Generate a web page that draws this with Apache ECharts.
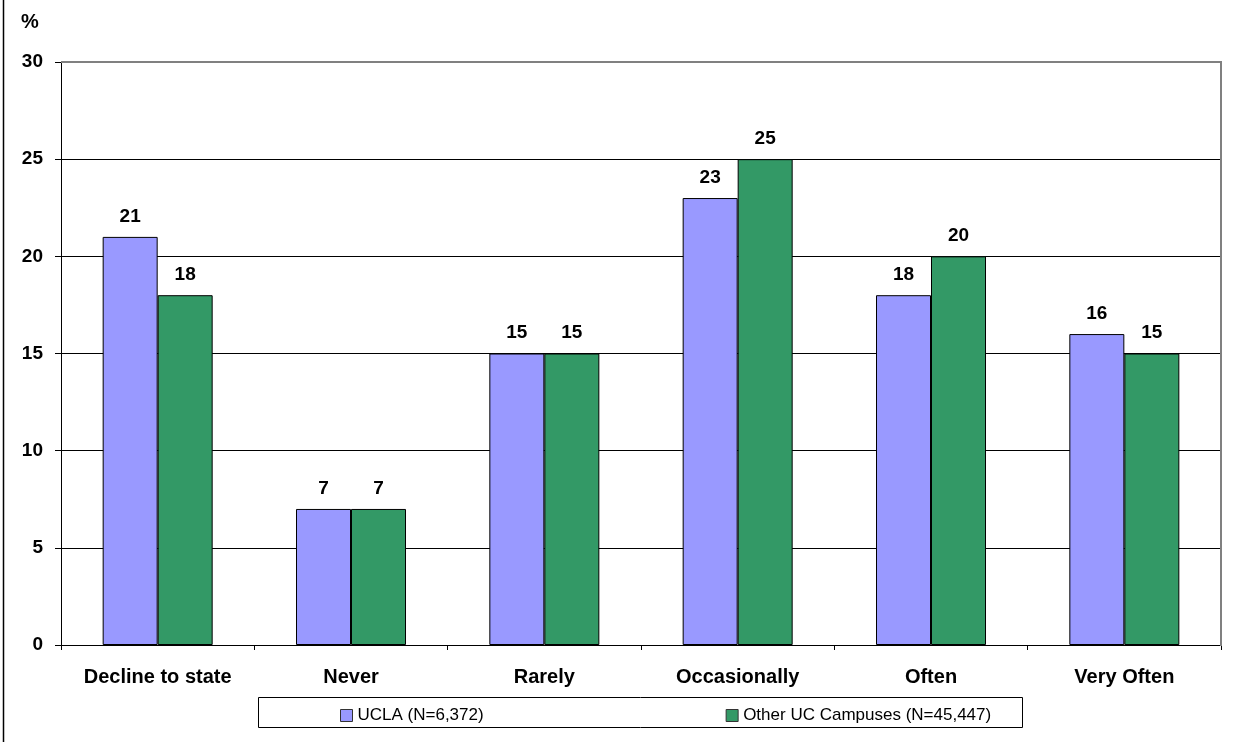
<!DOCTYPE html>
<html>
<head>
<meta charset="utf-8">
<script src="https://cdn.jsdelivr.net/npm/echarts@6/dist/echarts.min.js"></script>
<style>
  html, body { margin: 0; padding: 0; background: #fff; }
  #chart { width: 1233px; height: 742px; }
</style>
</head>
<body>
<div id="chart"></div>
<script>
// categories and values
const categories = ['Decline to state', 'Never', 'Rarely', 'Occasionally', 'Often', 'Very Often'];
const uclaValues = [21, 7, 15, 23, 18, 16];
const otherValues = [18, 7, 15, 25, 20, 15];
const seriesNames = ['UCLA (N=6,372)', 'Other UC Campuses (N=45,447)'];

let myChart = echarts.init(document.getElementById('chart'));

const labelStyle = {
  show: true,
  position: 'top',
  distance: 11,
  color: '#000',
  fontFamily: 'Arial, Liberation Sans',
  fontWeight: 'bold',
  fontSize: 19
};

let option = {
  animation: false,
  backgroundColor: '#fff',
  grid: { left: 61, right: 12, top: 62, bottom: 97 },
  legend: {
    left: 335,
    top: 702,
    itemWidth: 12,
    itemHeight: 12,
    itemGap: 242,
    icon: 'rect',
    itemStyle: { borderColor: '#333', borderWidth: 1 },
    textStyle: { fontFamily: 'Arial, Liberation Sans', fontSize: 17, color: '#000' },
    data: seriesNames
  },
  xAxis: {
    type: 'category',
    data: categories,
    axisLine: { lineStyle: { color: '#000', width: 1 } },
    axisTick: { show: true, length: 5, lineStyle: { color: '#000' } },
    axisLabel: {
      margin: 22,
      color: '#000',
      fontFamily: 'Arial, Liberation Sans',
      fontWeight: 'bold',
      fontSize: 20
    }
  },
  yAxis: {
    type: 'value',
    min: 0,
    max: 30,
    interval: 5,
    axisLine: { show: true, lineStyle: { color: '#000', width: 1 } },
    axisTick: { show: true, length: 6, lineStyle: { color: '#000' } },
    axisLabel: {
      margin: 18,
      color: '#000',
      fontFamily: 'Arial, Liberation Sans',
      fontWeight: 'bold',
      fontSize: 19
    },
    splitLine: { show: true, lineStyle: { color: '#000', width: 1 } }
  },
  series: [
    {
      name: seriesNames[0],
      type: 'bar',
      data: uclaValues,
      barWidth: 55,
      barGap: '0%',
      itemStyle: { color: '#9999FF', borderColor: '#000', borderWidth: 1 },
      label: labelStyle
    },
    {
      name: seriesNames[1],
      type: 'bar',
      data: otherValues,
      barWidth: 55,
      barGap: '0%',
      itemStyle: { color: '#339966', borderColor: '#000', borderWidth: 1 },
      label: labelStyle
    }
  ],
  graphic: [
    // outer frame line on the left
    { type: 'line', shape: { x1: 3.5, y1: 0, x2: 3.5, y2: 742 }, style: { stroke: '#000', lineWidth: 1.5 }, z: 100 },
    // gray plot border, top and right
    { type: 'line', shape: { x1: 61, y1: 62, x2: 1222, y2: 62 }, style: { stroke: '#808080', lineWidth: 2 }, z: 100 },
    { type: 'line', shape: { x1: 1221, y1: 61, x2: 1221, y2: 646 }, style: { stroke: '#808080', lineWidth: 2 }, z: 100 },
    // legend box
    { type: 'rect', shape: { x: 258.5, y: 697.5, width: 764, height: 30 }, style: { fill: 'none', stroke: '#000', lineWidth: 1 }, z: 100 },
    // y unit
    { type: 'text', left: 21, top: 12, style: { text: '%', fill: '#000', font: 'bold 20px Arial, Liberation Sans' } }
  ]
};
myChart.setOption(option);
</script>
</body>
</html>
